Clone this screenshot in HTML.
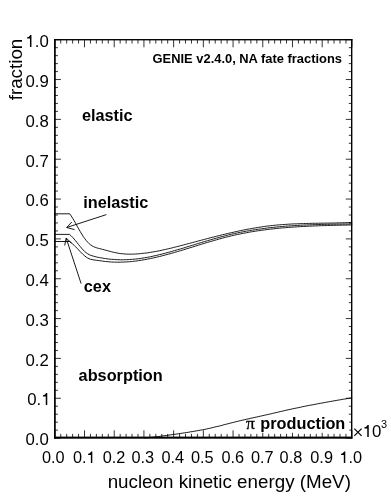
<!DOCTYPE html>
<html><head><meta charset="utf-8"><title>GENIE v2.4.0, NA fate fractions</title>
<style>
html,body{margin:0;padding:0;background:#fff;}
body{width:391px;height:498px;overflow:hidden;}
svg{display:block;will-change:transform;}
text{font-family:"Liberation Sans",sans-serif;fill:#000;}
.tk{font-size:16.8px;}
.tkx{font-size:16.3px;}
.ax{font-size:18.8px;}
.lb{font-size:16.3px;font-weight:bold;}
.tt{font-size:12.9px;font-weight:bold;}
.ln{fill:none;stroke:#000;stroke-width:0.9;stroke-linejoin:round;stroke-linecap:butt;}
</style></head><body>
<svg width="391" height="498" viewBox="0 0 391 498">
<rect x="0" y="0" width="391" height="498" fill="#fff"/>
<path d="M54.80 437.65V430.30M54.80 39.70V47.30M54.80 438.10H60.90M351.90 438.10H345.80M60.74 437.65V433.90M60.74 39.70V43.55M54.80 430.13H57.90M351.90 430.13H348.80M66.68 437.65V433.90M66.68 39.70V43.55M54.80 422.16H57.90M351.90 422.16H348.80M72.63 437.65V433.90M72.63 39.70V43.55M54.80 414.20H57.90M351.90 414.20H348.80M78.57 437.65V433.90M78.57 39.70V43.55M54.80 406.23H57.90M351.90 406.23H348.80M84.51 437.65V430.30M84.51 39.70V47.30M54.80 398.26H60.90M351.90 398.26H345.80M90.45 437.65V433.90M90.45 39.70V43.55M54.80 390.29H57.90M351.90 390.29H348.80M96.39 437.65V433.90M96.39 39.70V43.55M54.80 382.32H57.90M351.90 382.32H348.80M102.34 437.65V433.90M102.34 39.70V43.55M54.80 374.36H57.90M351.90 374.36H348.80M108.28 437.65V433.90M108.28 39.70V43.55M54.80 366.39H57.90M351.90 366.39H348.80M114.22 437.65V430.30M114.22 39.70V47.30M54.80 358.42H60.90M351.90 358.42H345.80M120.16 437.65V433.90M120.16 39.70V43.55M54.80 350.45H57.90M351.90 350.45H348.80M126.10 437.65V433.90M126.10 39.70V43.55M54.80 342.48H57.90M351.90 342.48H348.80M132.05 437.65V433.90M132.05 39.70V43.55M54.80 334.52H57.90M351.90 334.52H348.80M137.99 437.65V433.90M137.99 39.70V43.55M54.80 326.55H57.90M351.90 326.55H348.80M143.93 437.65V430.30M143.93 39.70V47.30M54.80 318.58H60.90M351.90 318.58H345.80M149.87 437.65V433.90M149.87 39.70V43.55M54.80 310.61H57.90M351.90 310.61H348.80M155.81 437.65V433.90M155.81 39.70V43.55M54.80 302.64H57.90M351.90 302.64H348.80M161.76 437.65V433.90M161.76 39.70V43.55M54.80 294.68H57.90M351.90 294.68H348.80M167.70 437.65V433.90M167.70 39.70V43.55M54.80 286.71H57.90M351.90 286.71H348.80M173.64 437.65V430.30M173.64 39.70V47.30M54.80 278.74H60.90M351.90 278.74H345.80M179.58 437.65V433.90M179.58 39.70V43.55M54.80 270.77H57.90M351.90 270.77H348.80M185.52 437.65V433.90M185.52 39.70V43.55M54.80 262.80H57.90M351.90 262.80H348.80M191.47 437.65V433.90M191.47 39.70V43.55M54.80 254.84H57.90M351.90 254.84H348.80M197.41 437.65V433.90M197.41 39.70V43.55M54.80 246.87H57.90M351.90 246.87H348.80M203.35 437.65V430.30M203.35 39.70V47.30M54.80 238.90H60.90M351.90 238.90H345.80M209.29 437.65V433.90M209.29 39.70V43.55M54.80 230.93H57.90M351.90 230.93H348.80M215.23 437.65V433.90M215.23 39.70V43.55M54.80 222.96H57.90M351.90 222.96H348.80M221.18 437.65V433.90M221.18 39.70V43.55M54.80 215.00H57.90M351.90 215.00H348.80M227.12 437.65V433.90M227.12 39.70V43.55M54.80 207.03H57.90M351.90 207.03H348.80M233.06 437.65V430.30M233.06 39.70V47.30M54.80 199.06H60.90M351.90 199.06H345.80M239.00 437.65V433.90M239.00 39.70V43.55M54.80 191.09H57.90M351.90 191.09H348.80M244.94 437.65V433.90M244.94 39.70V43.55M54.80 183.12H57.90M351.90 183.12H348.80M250.89 437.65V433.90M250.89 39.70V43.55M54.80 175.16H57.90M351.90 175.16H348.80M256.83 437.65V433.90M256.83 39.70V43.55M54.80 167.19H57.90M351.90 167.19H348.80M262.77 437.65V430.30M262.77 39.70V47.30M54.80 159.22H60.90M351.90 159.22H345.80M268.71 437.65V433.90M268.71 39.70V43.55M54.80 151.25H57.90M351.90 151.25H348.80M274.65 437.65V433.90M274.65 39.70V43.55M54.80 143.28H57.90M351.90 143.28H348.80M280.60 437.65V433.90M280.60 39.70V43.55M54.80 135.32H57.90M351.90 135.32H348.80M286.54 437.65V433.90M286.54 39.70V43.55M54.80 127.35H57.90M351.90 127.35H348.80M292.48 437.65V430.30M292.48 39.70V47.30M54.80 119.38H60.90M351.90 119.38H345.80M298.42 437.65V433.90M298.42 39.70V43.55M54.80 111.41H57.90M351.90 111.41H348.80M304.36 437.65V433.90M304.36 39.70V43.55M54.80 103.44H57.90M351.90 103.44H348.80M310.31 437.65V433.90M310.31 39.70V43.55M54.80 95.48H57.90M351.90 95.48H348.80M316.25 437.65V433.90M316.25 39.70V43.55M54.80 87.51H57.90M351.90 87.51H348.80M322.19 437.65V430.30M322.19 39.70V47.30M54.80 79.54H60.90M351.90 79.54H345.80M328.13 437.65V433.90M328.13 39.70V43.55M54.80 71.57H57.90M351.90 71.57H348.80M334.07 437.65V433.90M334.07 39.70V43.55M54.80 63.60H57.90M351.90 63.60H348.80M340.02 437.65V433.90M340.02 39.70V43.55M54.80 55.64H57.90M351.90 55.64H348.80M345.96 437.65V433.90M345.96 39.70V43.55M54.80 47.67H57.90M351.90 47.67H348.80M351.90 437.65V430.30M351.90 39.70V47.30M54.80 39.70H60.90M351.90 39.70H345.80" fill="none" stroke="#000" stroke-width="0.80"/>
<rect x="244" y="415.5" width="105.3" height="17.3" fill="#fff"/>
<g fill="#000">
<rect x="54.05" y="39.03" width="1.70" height="399.67"/>
<rect x="351.00" y="39.03" width="1.40" height="399.67"/>
<rect x="54.05" y="39.03" width="298.35" height="1.35"/>
<rect x="54.05" y="436.60" width="298.35" height="2.10"/>
</g>
<path class="ln" d="M54.8 213.8L69.7 213.8L71.2 215.9L72.7 218.3L74.2 220.8L75.7 223.5L77.2 226.2L78.7 228.9L80.2 231.5L81.7 234.0L83.2 236.4L84.7 238.5L86.2 240.5L87.7 242.2L89.2 243.7L90.7 244.9L92.2 245.9L93.7 246.7L95.2 247.3L96.7 247.8L98.2 248.3L99.7 248.6L101.2 249.0L102.7 249.4L104.2 249.8L105.7 250.2L107.2 250.6L108.7 251.0L110.2 251.4L111.7 251.8L113.2 252.2L114.7 252.5L116.2 252.8L117.7 253.1L119.2 253.4L120.7 253.6L122.2 253.7L123.7 253.9L125.2 254.0L126.7 254.1L128.2 254.1L129.7 254.2L131.2 254.2L132.7 254.1L134.2 254.1L135.7 254.0L137.2 253.9L138.7 253.8L140.2 253.7L141.7 253.5L143.2 253.3L144.7 253.2L146.2 253.0L147.7 252.8L149.2 252.5L150.7 252.3L152.2 252.1L153.7 251.8L155.2 251.5L156.7 251.3L158.2 251.0L159.7 250.7L161.2 250.4L162.7 250.0L164.2 249.7L165.7 249.4L167.2 249.0L168.7 248.7L170.2 248.3L171.7 248.0L173.2 247.6L174.7 247.2L176.2 246.8L177.7 246.5L179.2 246.1L180.7 245.7L182.2 245.3L183.7 244.9L185.2 244.5L186.7 244.1L188.2 243.7L189.7 243.3L191.2 242.9L192.7 242.5L194.2 242.1L195.7 241.7L197.2 241.3L198.7 240.9L200.2 240.5L201.7 240.1L203.2 239.7L204.7 239.3L206.2 238.9L207.7 238.5L209.2 238.1L210.7 237.7L212.2 237.3L213.7 237.0L215.2 236.6L216.7 236.2L218.2 235.8L219.7 235.5L221.2 235.1L222.7 234.7L224.2 234.4L225.7 234.0L227.2 233.6L228.7 233.3L230.2 232.9L231.7 232.6L233.2 232.3L234.7 231.9L236.2 231.6L237.7 231.3L239.2 230.9L240.7 230.6L242.2 230.3L243.7 230.0L245.2 229.7L246.7 229.4L248.2 229.1L249.7 228.9L251.2 228.6L252.7 228.3L254.2 228.1L255.7 227.8L257.2 227.6L258.7 227.3L260.2 227.1L261.7 226.9L263.2 226.6L264.7 226.4L266.2 226.2L267.7 226.0L269.2 225.9L270.7 225.7L272.2 225.5L273.7 225.4L275.2 225.2L276.7 225.1L278.2 224.9L279.7 224.8L281.2 224.7L282.7 224.6L284.2 224.5L285.7 224.4L287.2 224.3L288.7 224.2L290.2 224.1L291.7 224.0L293.2 223.9L294.7 223.9L296.2 223.8L297.7 223.8L299.2 223.7L300.7 223.6L302.2 223.6L303.7 223.6L305.2 223.5L306.7 223.5L308.2 223.4L309.7 223.4L311.2 223.4L312.7 223.3L314.2 223.3L315.7 223.3L317.2 223.3L318.7 223.2L320.2 223.2L321.7 223.2L323.2 223.2L324.7 223.1L326.2 223.1L327.7 223.1L329.2 223.1L330.7 223.0L332.2 223.0L333.7 223.0L335.2 223.0L336.7 222.9L338.2 222.9L339.7 222.8L341.2 222.8L342.7 222.8L344.2 222.7L345.7 222.7L347.2 222.6L348.7 222.5L350.2 222.5L351.7 222.4L352.2 222.4"/>
<path class="ln" d="M54.8 234.4L69.6 234.4L71.1 235.8L72.6 237.3L74.1 239.0L75.6 240.8L77.1 242.7L78.6 244.6L80.1 246.4L81.6 248.2L83.1 249.9L84.6 251.4L86.1 252.7L87.6 253.7L89.1 254.6L90.6 255.3L92.1 255.8L93.6 256.2L95.1 256.6L96.6 257.0L98.1 257.3L99.6 257.6L101.1 257.9L102.6 258.1L104.1 258.4L105.6 258.6L107.1 258.8L108.6 259.0L110.1 259.2L111.6 259.3L113.1 259.4L114.6 259.5L116.1 259.6L117.6 259.7L119.1 259.7L120.6 259.8L122.1 259.8L123.6 259.8L125.1 259.7L126.6 259.7L128.1 259.6L129.6 259.5L131.1 259.4L132.6 259.3L134.1 259.2L135.6 259.0L137.1 258.9L138.6 258.7L140.1 258.5L141.6 258.3L143.1 258.0L144.6 257.8L146.1 257.5L147.6 257.3L149.1 257.0L150.6 256.7L152.1 256.4L153.6 256.0L155.1 255.7L156.6 255.4L158.1 255.0L159.6 254.6L161.1 254.3L162.6 253.9L164.1 253.5L165.6 253.1L167.1 252.7L168.6 252.3L170.1 251.9L171.6 251.5L173.1 251.0L174.6 250.6L176.1 250.2L177.6 249.7L179.1 249.3L180.6 248.9L182.1 248.4L183.6 248.0L185.1 247.5L186.6 247.0L188.1 246.6L189.6 246.1L191.1 245.7L192.6 245.2L194.1 244.8L195.6 244.3L197.1 243.8L198.6 243.4L200.1 242.9L201.6 242.5L203.1 242.0L204.6 241.6L206.1 241.1L207.6 240.7L209.1 240.2L210.6 239.8L212.1 239.4L213.6 238.9L215.1 238.5L216.6 238.1L218.1 237.7L219.6 237.3L221.1 236.8L222.6 236.5L224.1 236.1L225.6 235.7L227.1 235.3L228.6 234.9L230.1 234.6L231.6 234.2L233.1 233.9L234.6 233.5L236.1 233.2L237.6 232.9L239.1 232.6L240.6 232.3L242.1 232.0L243.6 231.7L245.1 231.4L246.6 231.1L248.1 230.9L249.6 230.6L251.1 230.3L252.6 230.1L254.1 229.9L255.6 229.6L257.1 229.4L258.6 229.2L260.1 229.0L261.6 228.8L263.1 228.6L264.6 228.4L266.1 228.2L267.6 228.0L269.1 227.8L270.6 227.6L272.1 227.5L273.6 227.3L275.1 227.2L276.6 227.0L278.1 226.9L279.6 226.7L281.1 226.6L282.6 226.5L284.1 226.3L285.6 226.2L287.1 226.1L288.6 226.0L290.1 225.9L291.6 225.8L293.1 225.7L294.6 225.6L296.1 225.5L297.6 225.4L299.1 225.3L300.6 225.2L302.1 225.2L303.6 225.1L305.1 225.0L306.6 225.0L308.1 224.9L309.6 224.8L311.1 224.8L312.6 224.7L314.1 224.7L315.6 224.6L317.1 224.6L318.6 224.5L320.1 224.5L321.6 224.4L323.1 224.4L324.6 224.4L326.1 224.3L327.6 224.3L329.1 224.3L330.6 224.2L332.1 224.2L333.6 224.2L335.1 224.2L336.6 224.1L338.1 224.1L339.6 224.1L341.1 224.1L342.6 224.0L344.1 224.0L345.6 224.0L347.1 224.0L348.6 224.0L350.1 223.9L351.6 223.9L352.2 223.9"/>
<path class="ln" d="M54.8 241.5L69.6 241.5L71.1 242.7L72.6 243.9L74.1 245.3L75.6 246.8L77.1 248.3L78.6 249.9L80.1 251.5L81.6 253.0L83.1 254.5L84.6 255.8L86.1 257.0L87.6 258.0L89.1 258.7L90.6 259.3L92.1 259.6L93.6 259.9L95.1 260.1L96.6 260.3L98.1 260.5L99.6 260.7L101.1 260.9L102.6 261.1L104.1 261.3L105.6 261.5L107.1 261.6L108.6 261.8L110.1 261.9L111.6 262.0L113.1 262.1L114.6 262.1L116.1 262.2L117.6 262.2L119.1 262.2L120.6 262.2L122.1 262.1L123.6 262.1L125.1 262.0L126.6 261.9L128.1 261.8L129.6 261.7L131.1 261.6L132.6 261.4L134.1 261.2L135.6 261.1L137.1 260.9L138.6 260.6L140.1 260.4L141.6 260.2L143.1 259.9L144.6 259.7L146.1 259.4L147.6 259.1L149.1 258.8L150.6 258.5L152.1 258.2L153.6 257.9L155.1 257.5L156.6 257.2L158.1 256.8L159.6 256.5L161.1 256.1L162.6 255.7L164.1 255.3L165.6 254.9L167.1 254.5L168.6 254.1L170.1 253.7L171.6 253.3L173.1 252.9L174.6 252.4L176.1 252.0L177.6 251.5L179.1 251.1L180.6 250.7L182.1 250.2L183.6 249.8L185.1 249.3L186.6 248.8L188.1 248.4L189.6 247.9L191.1 247.5L192.6 247.0L194.1 246.5L195.6 246.1L197.1 245.6L198.6 245.1L200.1 244.7L201.6 244.2L203.1 243.7L204.6 243.3L206.1 242.8L207.6 242.4L209.1 241.9L210.6 241.5L212.1 241.1L213.6 240.6L215.1 240.2L216.6 239.8L218.1 239.3L219.6 238.9L221.1 238.5L222.6 238.1L224.1 237.7L225.6 237.3L227.1 236.9L228.6 236.6L230.1 236.2L231.6 235.8L233.1 235.5L234.6 235.1L236.1 234.8L237.6 234.5L239.1 234.2L240.6 233.9L242.1 233.5L243.6 233.3L245.1 233.0L246.6 232.7L248.1 232.4L249.6 232.1L251.1 231.9L252.6 231.6L254.1 231.4L255.6 231.2L257.1 230.9L258.6 230.7L260.1 230.5L261.6 230.3L263.1 230.1L264.6 229.9L266.1 229.7L267.6 229.5L269.1 229.3L270.6 229.1L272.1 229.0L273.6 228.8L275.1 228.6L276.6 228.5L278.1 228.3L279.6 228.2L281.1 228.0L282.6 227.9L284.1 227.8L285.6 227.7L287.1 227.5L288.6 227.4L290.1 227.3L291.6 227.2L293.1 227.1L294.6 227.0L296.1 226.9L297.6 226.8L299.1 226.7L300.6 226.6L302.1 226.5L303.6 226.5L305.1 226.4L306.6 226.3L308.1 226.2L309.6 226.2L311.1 226.1L312.6 226.0L314.1 226.0L315.6 225.9L317.1 225.9L318.6 225.8L320.1 225.7L321.6 225.7L323.1 225.6L324.6 225.6L326.1 225.6L327.6 225.5L329.1 225.5L330.6 225.4L332.1 225.4L333.6 225.3L335.1 225.3L336.6 225.3L338.1 225.2L339.6 225.2L341.1 225.2L342.6 225.1L344.1 225.1L345.6 225.1L347.1 225.0L348.6 225.0L350.1 225.0L351.6 224.9L352.2 224.9"/>
<path class="ln" d="M144.2 437.9L146.2 437.8L148.2 437.6L150.2 437.4L152.2 437.2L154.2 437.0L156.2 436.8L158.2 436.6L160.2 436.3L162.2 436.0L164.2 435.7L166.2 435.5L168.2 435.2L170.2 434.9L172.2 434.6L174.2 434.4L176.2 434.1L178.2 433.8L180.2 433.5L182.2 433.2L184.2 432.9L186.2 432.6L188.2 432.3L190.2 431.9L192.2 431.6L194.2 431.3L196.2 430.9L198.2 430.6L200.2 430.2L202.2 429.9L204.2 429.5L206.2 429.1L208.2 428.6L210.2 428.2L212.2 427.7L214.2 427.2L216.2 426.7L218.2 426.3L220.2 425.8L222.2 425.3L224.2 424.7L226.2 424.2L228.2 423.7L230.2 423.2L232.2 422.7L234.2 422.2L236.2 421.7L238.2 421.2L240.2 420.7L242.2 420.2L244.2 419.8L246.2 419.3L248.2 418.9L250.2 418.4L252.2 418.0L254.2 417.5L256.2 417.1L258.2 416.7L260.2 416.2L262.2 415.8L264.2 415.3L266.2 414.9L268.2 414.4L270.2 414.0L272.2 413.5L274.2 413.0L276.2 412.6L278.2 412.1L280.2 411.6L282.2 411.2L284.2 410.7L286.2 410.2L288.2 409.8L290.2 409.4L292.2 408.9L294.2 408.5L296.2 408.1L298.2 407.7L300.2 407.3L302.2 406.8L304.2 406.4L306.2 406.0L308.2 405.6L310.2 405.2L312.2 404.9L314.2 404.5L316.2 404.1L318.2 403.7L320.2 403.3L322.2 403.0L324.2 402.6L326.2 402.2L328.2 401.9L330.2 401.5L332.2 401.2L334.2 400.8L336.2 400.5L338.2 400.1L340.2 399.8L342.2 399.4L344.2 399.1L346.2 398.8L348.2 398.4L350.2 398.1L352.2 397.8"/>
<path class="ln" d="M106.4 214.6L66.7 227.5M71.8 222.0L66.7 227.5L74.6 229.6"/>
<path class="ln" d="M81.1 283.6L66.2 238.1M64.7 245.5L66.2 238.1L71.6 243.1"/>
<text class="tk" x="25.45" y="445.40">0.0</text>
<text class="tk" x="27.25" y="404.96">0.</text>
<path d="M47.26 404.96L45.76 404.96L45.76 396.49L42.94 396.49L42.94 395.32L42.94 395.32C44.75 395.15 45.68 393.89 45.96 393.05ZM45.96 393.05L47.26 393.05L47.26 404.96Z" fill="#000"/>
<text class="tk" x="25.45" y="365.72">0.2</text>
<text class="tk" x="25.45" y="325.88">0.3</text>
<text class="tk" x="25.45" y="286.04">0.4</text>
<text class="tk" x="25.45" y="246.20">0.5</text>
<text class="tk" x="25.45" y="206.36">0.6</text>
<text class="tk" x="25.45" y="166.52">0.7</text>
<text class="tk" x="25.45" y="126.68">0.8</text>
<text class="tk" x="25.45" y="86.84">0.9</text>
<path d="M31.45 47.00L29.95 47.00L29.95 38.53L27.13 38.53L27.13 37.36L27.13 37.36C28.94 37.19 29.87 35.93 30.15 35.09ZM30.15 35.09L31.45 35.09L31.45 47.00Z" fill="#000"/>
<text class="tk" x="34.79" y="47.00">.0</text>
<text class="tkx" x="41.90" y="463.10">0.0</text>
<text class="tkx" x="72.90" y="463.10">0.</text>
<path d="M92.31 463.10L90.86 463.10L90.86 454.88L88.12 454.88L88.12 453.74L88.12 453.74C89.88 453.58 90.78 452.36 91.06 451.54ZM91.06 451.54L92.31 451.54L92.31 463.10Z" fill="#000"/>
<text class="tkx" x="102.70" y="463.10">0.2</text>
<text class="tkx" x="131.40" y="463.10">0.3</text>
<text class="tkx" x="161.40" y="463.10">0.4</text>
<text class="tkx" x="190.90" y="463.10">0.5</text>
<text class="tkx" x="221.40" y="463.10">0.6</text>
<text class="tkx" x="250.90" y="463.10">0.7</text>
<text class="tkx" x="279.60" y="463.10">0.8</text>
<text class="tkx" x="310.30" y="463.10">0.9</text>
<path d="M345.27 463.10L343.82 463.10L343.82 454.88L341.08 454.88L341.08 453.74L341.08 453.74C342.84 453.58 343.74 452.36 344.01 451.54ZM344.01 451.54L345.27 451.54L345.27 463.10Z" fill="#000"/>
<text class="tkx" x="348.51" y="463.10">.0</text>
<path d="M354.3 428.6L361.6 435.9M361.6 428.6L354.3 435.9" fill="none" stroke="#000" stroke-width="1.2"/>
<path d="M368.76 436.90L367.26 436.90L367.26 428.43L364.44 428.43L364.44 427.26L364.44 427.26C366.25 427.09 367.18 425.83 367.46 424.99ZM367.46 424.99L368.76 424.99L368.76 436.90Z" fill="#000"/>
<text class="tk" x="372.10" y="436.90">0</text>
<text x="381.1" y="428.2" style="font-size:10.9px">3</text>
<text class="ax" x="350.9" y="487.6" text-anchor="end">nucleon kinetic energy (MeV)</text>
<text class="ax" transform="translate(22.2 38.7) rotate(-90)" text-anchor="end">fraction</text>
<text class="tt" x="152.6" y="62.7">GENIE v2.4.0, NA fate fractions</text>
<text class="lb" x="81.9" y="121.1">elastic</text>
<text class="lb" x="83.2" y="207.5">inelastic</text>
<text class="lb" x="83.8" y="291.9">cex</text>
<text class="lb" x="78.6" y="381.3">absorption</text>
<text x="246" y="428.8" style="font-family:'Liberation Serif',serif;font-size:17.6px;stroke:#000;stroke-width:0.3px">π</text>
<text class="lb" x="260.3" y="428.6">production</text>
</svg></body></html>
